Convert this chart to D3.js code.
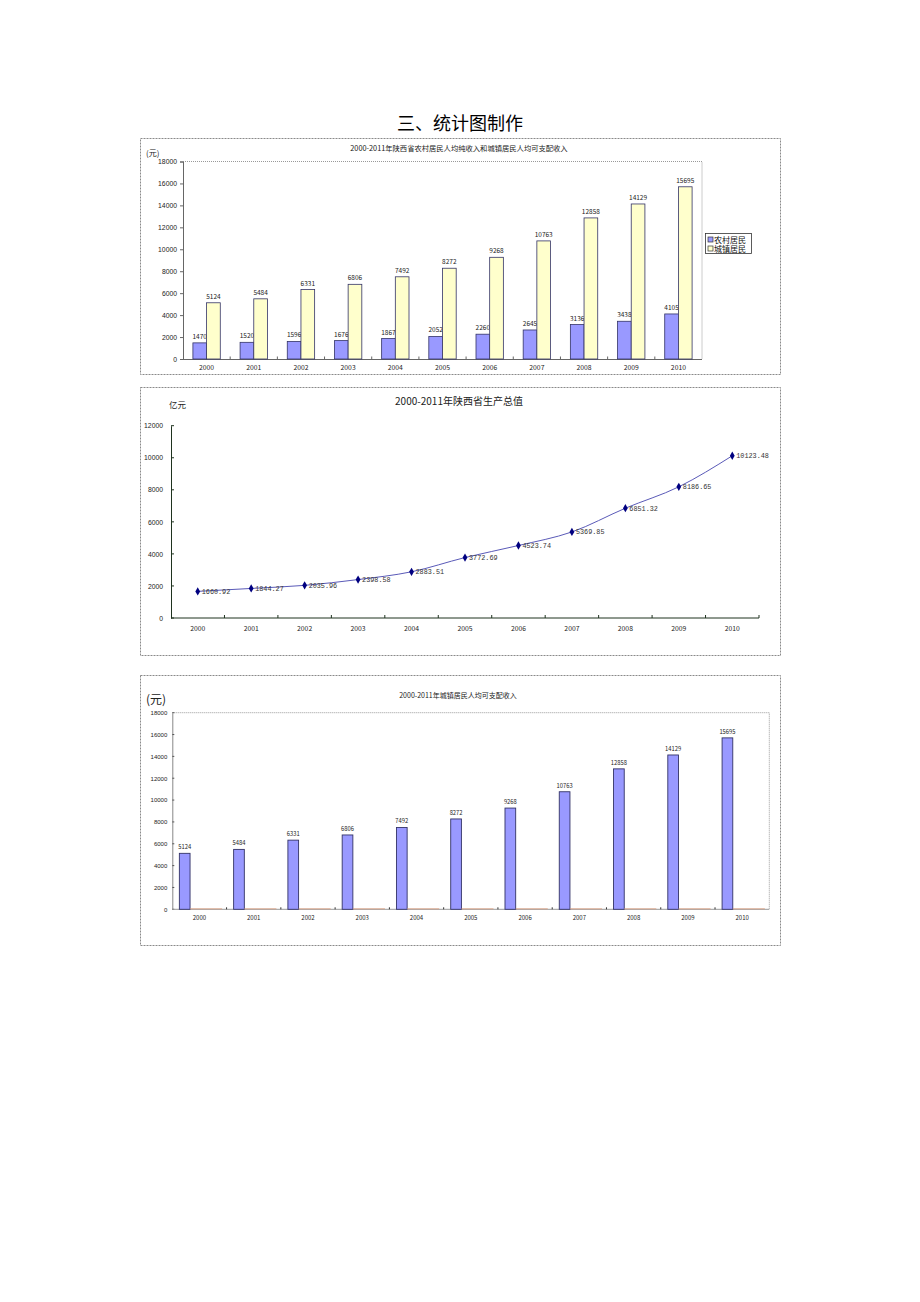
<!DOCTYPE html>
<html><head><meta charset="utf-8">
<script src="https://cdn.jsdelivr.net/npm/d3@7"></script>
<style>
body{margin:0;background:#fff;}
svg{display:block;font-family:"Noto Sans CJK SC","DejaVu Sans",sans-serif;}
</style></head>
<body><svg id="c" width="920" height="1302"></svg>
<script>
const years = ["2000","2001","2002","2003","2004","2005","2006","2007","2008","2009","2010"];
const rural = [1470,1520,1596,1676,1867,2052,2260,2645,3136,3438,4105];
const urban = [5124,5484,6331,6806,7492,8272,9268,10763,12858,14129,15695];
const gdp = [1660.92,1844.27,2035.96,2398.58,2883.51,3772.69,4523.74,5369.85,6851.32,8186.65,10123.48];
const incomeTicks = [0,2000,4000,6000,8000,10000,12000,14000,16000,18000];
const gdpTicks = [0,2000,4000,6000,8000,10000,12000];
const seriesNames = ["农村居民","城镇居民"];

const svg = d3.select("#c");
const RURAL_C = "#9999ff", URBAN_C = "#ffffcc", EDGE = "#333366";

svg.append("text").attr("x",460).attr("y",130).attr("text-anchor","middle")
  .attr("font-size",18).attr("fill","#000").text("三、统计图制作");

function box(x,y,w,h){
  svg.append("rect").attr("x",x+0.5).attr("y",y+0.5).attr("width",w).attr("height",h)
    .attr("fill","#fff").attr("stroke","#8a8a8a").attr("stroke-width",1).attr("stroke-dasharray","2,1");
}

// ---------- Chart 1 ----------
(function(){
  box(140,138,640,236);
  const L=183,R=702,T=161.5,B=359;
  const x = d3.scaleBand().domain(years).range([L,R]);
  const y = d3.scaleLinear().domain([0,18000]).range([B,T]);
  const g = svg.append("g");
  g.append("text").attr("x",459).attr("y",151).attr("text-anchor","middle").attr("font-size",7.3).attr("fill","#222")
    .text("2000-2011年陕西省农村居民人均纯收入和城镇居民人均可支配收入");
  g.append("text").attr("x",146).attr("y",156).attr("font-size",8).attr("fill","#222").text("(元)");
  g.append("path").attr("d",`M${L},${T}H${R}V${B}`).attr("fill","none").attr("stroke","#999").attr("stroke-dasharray","1,1");
  const ya = g.append("g").attr("transform",`translate(${L},0)`).call(d3.axisLeft(y).tickValues(incomeTicks).tickSize(3).tickFormat(d3.format("d")));
  ya.select(".domain").attr("stroke","#666");
  ya.selectAll("line").attr("stroke","#666");
  ya.selectAll("text").attr("font-size",6.8).attr("fill","#222").attr("x",-6);
  g.append("line").attr("x1",L).attr("x2",R).attr("y1",B+0.5).attr("y2",B+0.5).attr("stroke","#666");
  years.forEach((yr,i)=>{ if(i>0) g.append("line").attr("x1",x(yr)).attr("x2",x(yr)).attr("y1",B).attr("y2",B-2.5).attr("stroke","#666"); });
  g.selectAll(".xl").data(years).enter().append("text").attr("x",d=>x(d)+x.bandwidth()/2).attr("y",370)
    .attr("text-anchor","middle").attr("font-size",6.8).attr("fill","#222").text(d=>d);
  const bw = x.bandwidth()*0.29, off = x.bandwidth()*0.21;
  [[rural,RURAL_C,0],[urban,URBAN_C,1]].forEach(([vals,col,k])=>{
    g.selectAll(null).data(vals).enter().append("rect")
      .attr("x",(d,i)=>x(years[i])+off+k*bw).attr("y",d=>y(d)).attr("width",bw).attr("height",d=>B-y(d))
      .attr("fill",col).attr("stroke",EDGE).attr("stroke-width",0.8);
    g.selectAll(null).data(vals).enter().append("text")
      .attr("x",(d,i)=>x(years[i])+off+k*bw+bw/2).attr("y",d=>y(d)-4)
      .attr("text-anchor","middle").attr("font-size",6.5).attr("fill","#222").text(d=>d);
  });
  const lg = g.append("g");
  lg.append("rect").attr("x",705.5).attr("y",233.5).attr("width",46).attr("height",20).attr("fill","#fff").attr("stroke","#333").attr("stroke-width",0.8);
  seriesNames.forEach((n,i)=>{
    lg.append("rect").attr("x",708).attr("y",237+i*9).attr("width",5).attr("height",5).attr("fill",i?URBAN_C:RURAL_C).attr("stroke","#333").attr("stroke-width",0.7);
    lg.append("text").attr("x",714).attr("y",242.5+i*9).attr("font-size",8).attr("fill","#111").text(n);
  });
})();

// ---------- Chart 2 ----------
(function(){
  box(140,387,640,268);
  const L=171,R=759,T=425.7,B=618;
  const x = d3.scaleBand().domain(years).range([L,R]);
  const y = d3.scaleLinear().domain([0,12000]).range([B,T]);
  const g = svg.append("g");
  g.append("text").attr("x",459).attr("y",405).attr("text-anchor","middle").attr("font-size",10).attr("fill","#222").text("2000-2011年陕西省生产总值");
  g.append("text").attr("x",169).attr("y",408).attr("font-size",8.5).attr("fill","#222").text("亿元");
  const ya = g.append("g").attr("transform",`translate(${L},0)`).call(d3.axisLeft(y).tickValues(gdpTicks).tickSize(0).tickFormat(d3.format("d")));
  ya.select(".domain").attr("stroke","#1f331f").attr("stroke-width",1);
  ya.selectAll("text").attr("font-size",6.8).attr("fill","#222").attr("x",-8);
  gdpTicks.forEach(t=>g.append("line").attr("x1",L).attr("x2",L+3).attr("y1",y(t)).attr("y2",y(t)).attr("stroke","#1f331f"));
  g.append("line").attr("x1",L).attr("x2",R).attr("y1",B).attr("y2",B).attr("stroke","#1f331f");
  years.forEach((yr,i)=>{ g.append("line").attr("x1",x(yr)+x.bandwidth()).attr("x2",x(yr)+x.bandwidth()).attr("y1",B).attr("y2",B-3).attr("stroke","#1f331f"); });
  g.selectAll(null).data(years).enter().append("text").attr("x",d=>x(d)+x.bandwidth()/2).attr("y",631)
    .attr("text-anchor","middle").attr("font-size",6.8).attr("fill","#222").text(d=>d);
  const cx = i=>x(years[i])+x.bandwidth()/2;
  const line = d3.line().x((d,i)=>cx(i)).y(d=>y(d)).curve(d3.curveMonotoneX);
  g.append("path").datum(gdp).attr("d",line).attr("fill","none").attr("stroke","#5a5ab8").attr("stroke-width",1);
  g.selectAll(null).data(gdp).enter().append("path")
    .attr("transform",(d,i)=>`translate(${cx(i)},${y(d)})`).attr("d",d3.symbol(d3.symbolDiamond,20)).attr("fill","#000080");
  g.selectAll(null).data(gdp).enter().append("text")
    .attr("x",(d,i)=>cx(i)+4).attr("y",d=>y(d)+2.5).attr("font-size",6.8).attr("font-family","Liberation Mono, DejaVu Sans Mono, monospace")
    .attr("fill","#333").text(d=>d.toFixed(2));
})();

// ---------- Chart 3 ----------
(function(){
  box(140,675,640,270);
  const L=172.3,R=769.3,T=712.7,B=909.3;
  const x = d3.scaleBand().domain(years).range([L,R]);
  const y = d3.scaleLinear().domain([0,18000]).range([B,T]);
  const g = svg.append("g");
  g.append("text").attr("x",458).attr("y",698).attr("text-anchor","middle").attr("font-size",7).attr("fill","#222").text("2000-2011年城镇居民人均可支配收入");
  g.append("text").attr("x",146).attr("y",704).attr("font-size",12).attr("fill","#222").text("(元)");
  g.append("path").attr("d",`M${L},${T}H${R}V${B}`).attr("fill","none").attr("stroke","#999").attr("stroke-dasharray","1,1");
  const ya = g.append("g").attr("transform",`translate(${L},0)`).call(d3.axisLeft(y).tickValues(incomeTicks).tickSize(0).tickFormat(d3.format("d")));
  ya.select(".domain").attr("stroke","#888");
  ya.selectAll("text").attr("font-size",6).attr("fill","#222").attr("x",-5);
  incomeTicks.forEach(t=>g.append("line").attr("x1",L).attr("x2",L+2).attr("y1",y(t)).attr("y2",y(t)).attr("stroke","#555"));
  g.append("line").attr("x1",L).attr("x2",R).attr("y1",B).attr("y2",B).attr("stroke","#999");
  years.forEach((yr,i)=>{ if(i>0) g.append("line").attr("x1",x(yr)).attr("x2",x(yr)).attr("y1",B).attr("y2",B-2).attr("stroke","#333"); });
  g.selectAll(null).data(years).enter().append("text").attr("x",d=>x(d)+x.bandwidth()/2).attr("y",920)
    .attr("text-anchor","middle").attr("font-size",6).attr("fill","#222").text(d=>d);
  const off = x.bandwidth()*0.13, bw = x.bandwidth()*0.197;
  g.selectAll(null).data(urban).enter().append("rect")
    .attr("x",(d,i)=>x(years[i])+off).attr("y",d=>y(d)).attr("width",bw).attr("height",d=>B-y(d))
    .attr("fill",RURAL_C).attr("stroke",EDGE).attr("stroke-width",0.9);
  g.selectAll(null).data(urban).enter().append("line")
    .attr("x1",(d,i)=>x(years[i])+off+bw).attr("x2",(d,i)=>x(years[i])+off+bw*4).attr("y1",B-0.5).attr("y2",B-0.5)
    .attr("stroke","#d99a7a").attr("stroke-width",0.8);
  g.selectAll(null).data(urban).enter().append("text")
    .attr("x",(d,i)=>x(years[i])+off+bw/2).attr("y",d=>y(d)-4)
    .attr("text-anchor","middle").attr("font-size",5.8).attr("fill","#222").text(d=>d);
})();
</script></body></html>
